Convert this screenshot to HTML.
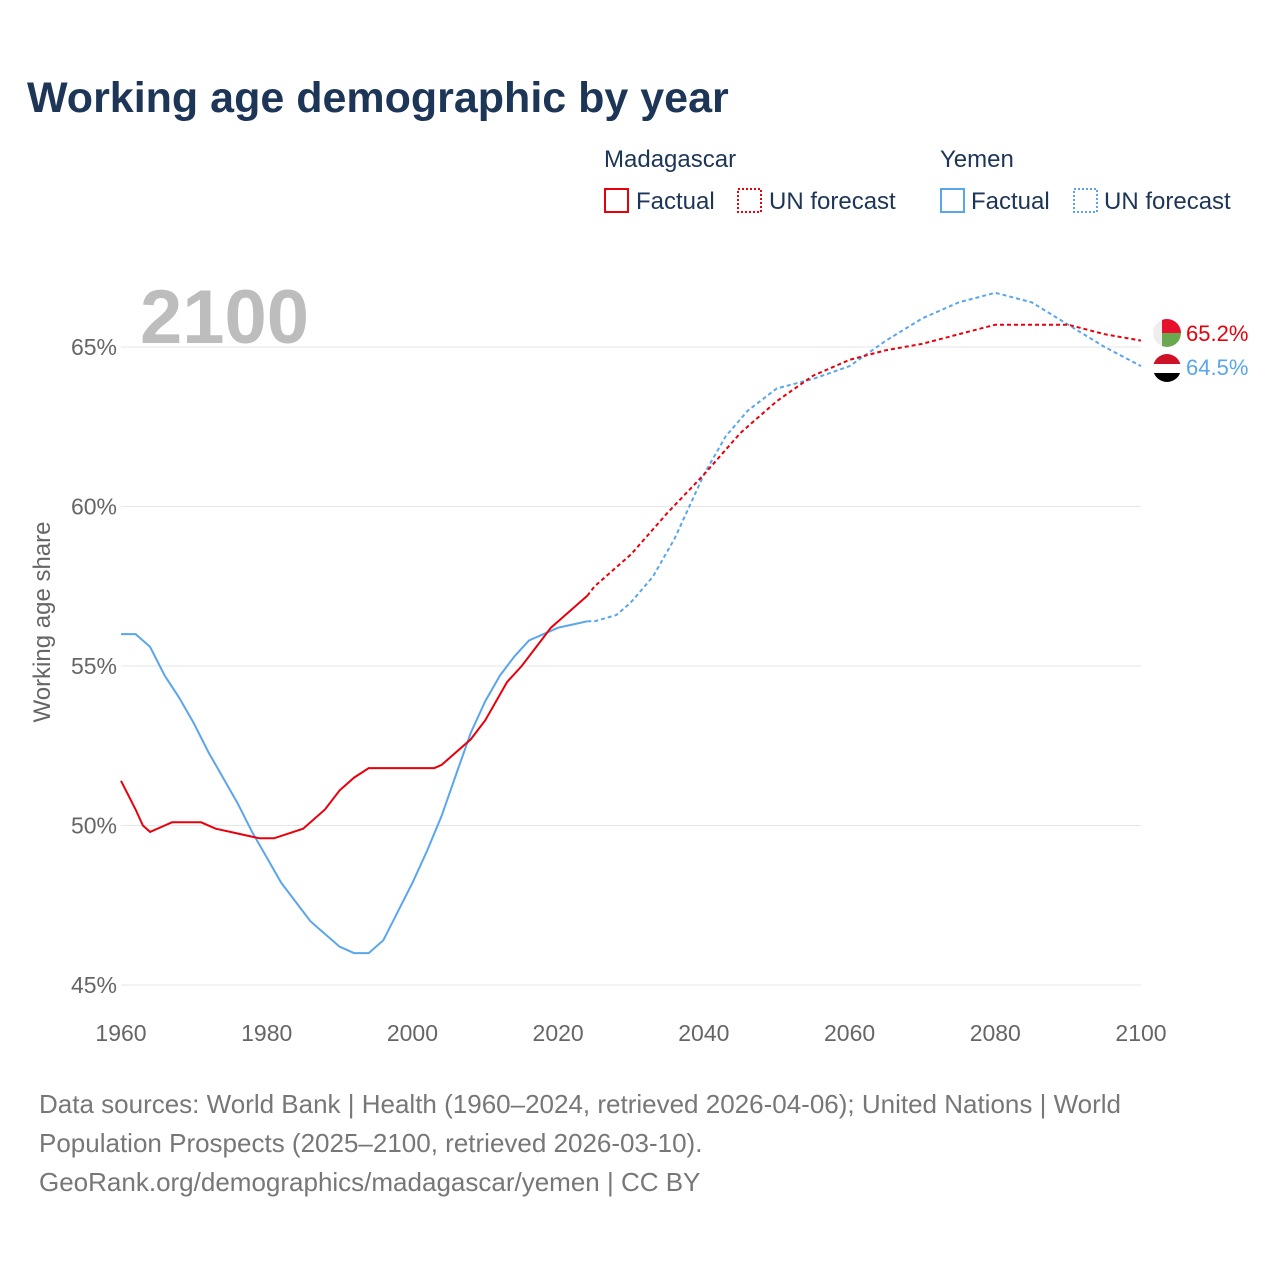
<!DOCTYPE html>
<html><head><meta charset="utf-8">
<style>
body{margin:0;background:#fff;font-family:"Liberation Sans",sans-serif;}
svg text{font-family:"Liberation Sans",sans-serif;}
</style></head>
<body>
<svg id="chart" width="1280" height="1280" viewBox="0 0 1280 1280">
<text x="27" y="112" font-size="43" font-weight="bold" fill="#1d3557">Working age demographic by year</text>
<g font-size="24" fill="#1d3557">
<text x="604" y="167">Madagascar</text>
<text x="940" y="167">Yemen</text>
<g><rect x="605" y="189" width="23" height="23" fill="none" stroke="#e8000b" stroke-width="2"/><text x="636" y="209">Factual</text></g>
<g><rect x="738" y="189" width="23" height="23" fill="none" stroke="#e8000b" stroke-width="2" stroke-dasharray="2,2"/><text x="769" y="209">UN forecast</text></g>
<g><rect x="941" y="189" width="23" height="23" fill="none" stroke="#5aa6ec" stroke-width="2"/><text x="971" y="209">Factual</text></g>
<g><rect x="1074" y="189" width="23" height="23" fill="none" stroke="#5aa6ec" stroke-width="2" stroke-dasharray="2,2"/><text x="1104" y="209">UN forecast</text></g>
</g>
<text x="140" y="343" font-size="76" font-weight="bold" fill="#bdbdbd">2100</text>
<text x="31" y="622" font-size="24" fill="#666" transform="rotate(-90 50 622)" text-anchor="middle" dx="19">Working age share</text>
<g id="grid"></g><g id="lines"></g><g id="ends"></g>
<g font-size="26" fill="#777">
<text x="39" y="1113">Data sources: World Bank | Health (1960–2024, retrieved 2026-04-06); United Nations | World</text>
<text x="39" y="1152">Population Prospects (2025–2100, retrieved 2026-03-10).</text>
<text x="39" y="1191">GeoRank.org/demographics/madagascar/yemen | CC BY</text>
</g>
</svg>
<script>
const yTicks=[45,50,55,60,65];
const xTicks=[1960,1980,2000,2020,2040,2060,2080,2100];
const madYearsF=[1960,1962,1963,1964,1966,1967,1971,1973,1975,1977,1979,1981,1985,1988,1990,1992,1994,2003,2004,2008,2010,2013,2015,2017,2019,2021,2024];
const madValsF=[51.4,50.5,50.0,49.8,50.0,50.1,50.1,49.9,49.8,49.7,49.6,49.6,49.9,50.5,51.1,51.5,51.8,51.8,51.9,52.7,53.3,54.5,55.0,55.6,56.2,56.6,57.2];
const madYearsP=[2024,2025,2030,2035,2040,2045,2050,2055,2060,2065,2070,2075,2080,2085,2090,2095,2100];
const madValsP=[57.2,57.5,58.5,59.8,61.0,62.3,63.3,64.1,64.6,64.9,65.1,65.4,65.7,65.7,65.7,65.4,65.2];
const yemYearsF=[1960,1962,1964,1966,1968,1970,1972,1974,1976,1978,1980,1982,1984,1986,1988,1990,1992,1994,1996,1998,2000,2002,2004,2006,2008,2010,2012,2014,2016,2018,2020,2022,2024];
const yemValsF=[56.0,56.0,55.6,54.7,54.0,53.2,52.3,51.5,50.7,49.8,49.0,48.2,47.6,47.0,46.6,46.2,46.0,46.0,46.4,47.3,48.2,49.2,50.3,51.6,52.9,53.9,54.7,55.3,55.8,56.0,56.2,56.3,56.4];
const yemYearsP=[2024,2025,2028,2030,2033,2036,2040,2043,2046,2050,2055,2060,2065,2070,2075,2080,2085,2090,2095,2100];
const yemValsP=[56.4,56.4,56.6,57.0,57.8,59.0,61.0,62.2,63.0,63.7,64.0,64.4,65.2,65.9,66.4,66.7,66.4,65.7,65.0,64.4];
const endLabels=["65.2%","64.5%"];
const X=y=>121+(y-1960)*(1020/140);
const Y=v=>985-(v-45)*31.9;
const NS="http://www.w3.org/2000/svg";
function mk(t,a,p){const e=document.createElementNS(NS,t);for(const k in a)e.setAttribute(k,a[k]);p.appendChild(e);return e;}
const grid=document.getElementById('grid');
yTicks.forEach(v=>{
 const l=mk('line',{x1:121,x2:1141,y1:Y(v),y2:Y(v),stroke:'#e6e6e6','stroke-width':1},grid);
 
 
 const t=mk('text',{x:117,y:Y(v)+8,'text-anchor':'end','font-size':23,fill:'#666'},grid);t.textContent=v+'%';
 
 
});
xTicks.forEach(y=>{
 const t=mk('text',{x:X(y),y:1041,'text-anchor':'middle','font-size':23,fill:'#666'},grid);t.textContent=y;
 
 
});
const lines=document.getElementById('lines');
function line(xs,vs,c,dash,name){
 const d=xs.map((x,i)=>(i?'L':'M')+X(x).toFixed(1)+','+Y(vs[i]).toFixed(1)).join('');
 const p=mk('path',{d:d,fill:'none',stroke:c,'stroke-width':2,'stroke-dasharray':dash},lines);
 
 
}
line(yemYearsF,yemValsF,'#5aa6ec','none','yemen-factual-line');
line(yemYearsP,yemValsP,'#5aa6ec','4,3','yemen-forecast-line');
line(madYearsF,madValsF,'#e8000b','none','madagascar-factual-line');
line(madYearsP,madValsP,'#e8000b','4,3','madagascar-forecast-line');
const ends=document.getElementById('ends');
ends.innerHTML='<defs><clipPath id="c1"><circle cx="1167" cy="333" r="14"/></clipPath><clipPath id="c2"><circle cx="1167" cy="368" r="14"/></clipPath></defs>'+
'<g clip-path="url(#c1)"><rect x="1153" y="319" width="28" height="28" fill="#eee"/><rect x="1162" y="319" width="19" height="14" fill="#e8112d"/><rect x="1162" y="333" width="19" height="14" fill="#6aa84f"/></g>'+
'<g clip-path="url(#c2)"><rect x="1153" y="354" width="28" height="10" fill="#ce1126"/><rect x="1153" y="364" width="28" height="9" fill="#fff"/><rect x="1153" y="373" width="28" height="10" fill="#000"/></g>';
const t1=mk('text',{x:1186,y:341,'font-size':22,fill:'#e8000b'},ends);t1.textContent=endLabels[0];


const t2=mk('text',{x:1186,y:375,'font-size':22,fill:'#5aa6ec'},ends);t2.textContent=endLabels[1];


</script>
</body></html>
